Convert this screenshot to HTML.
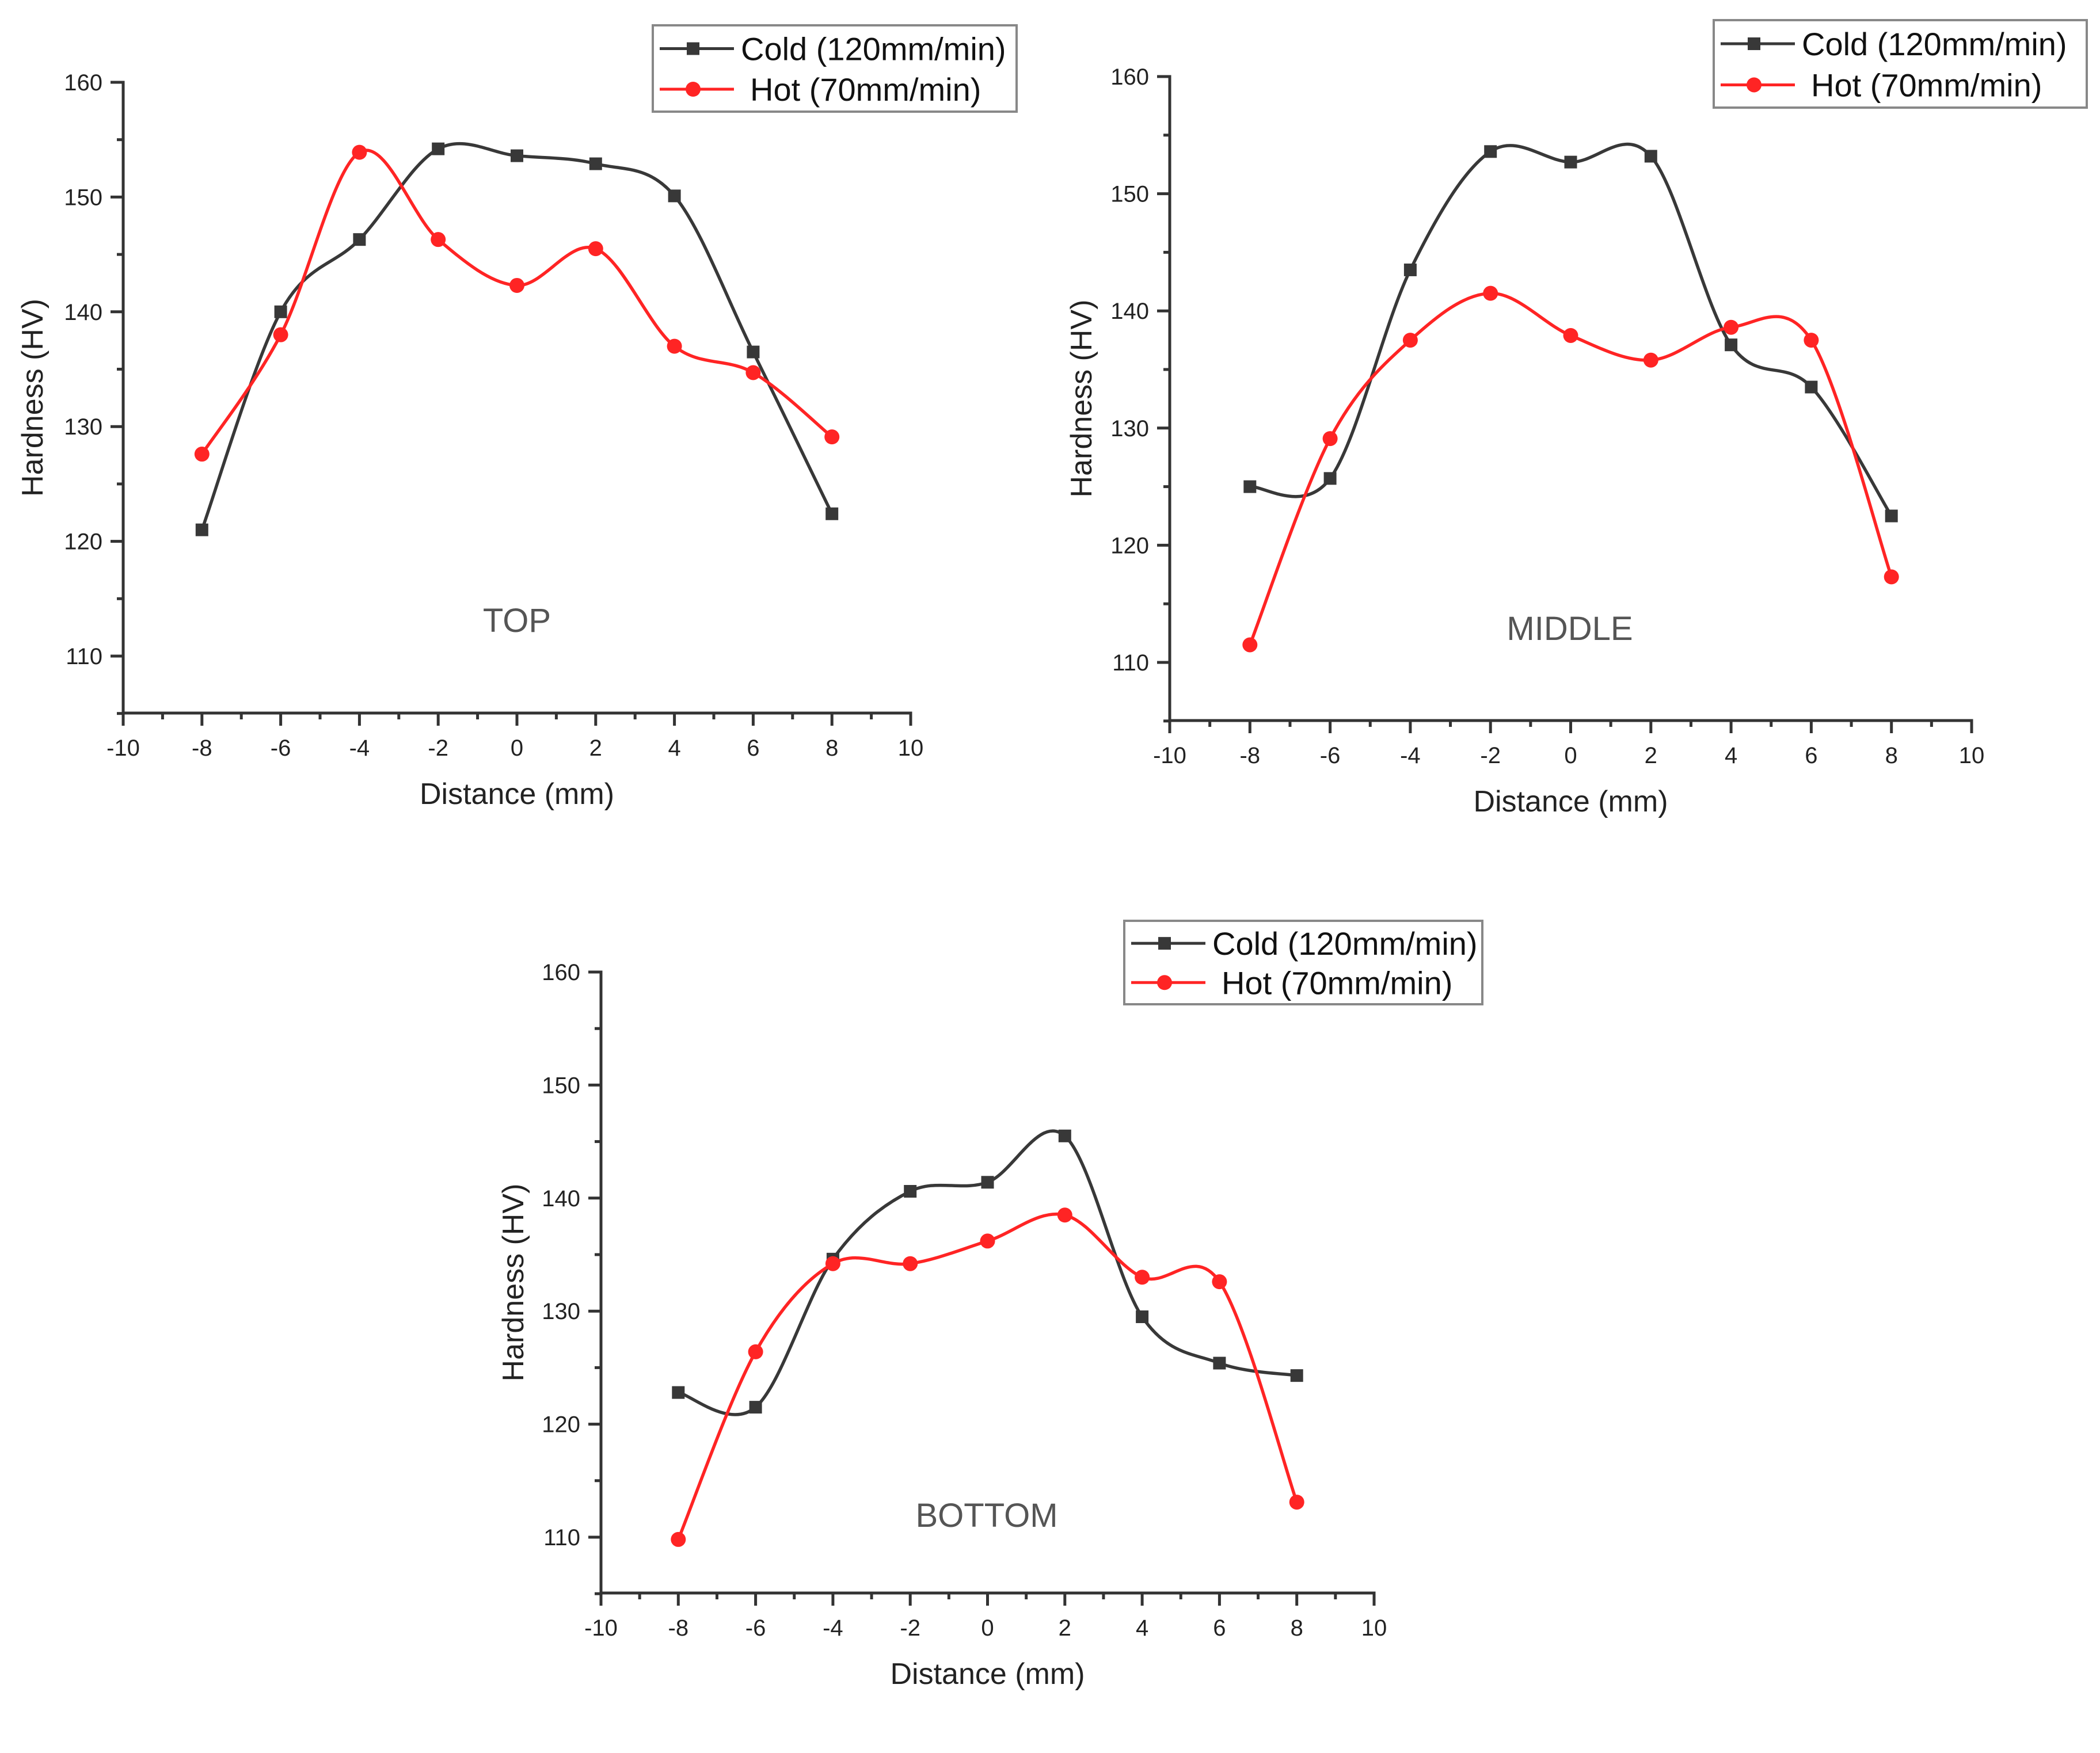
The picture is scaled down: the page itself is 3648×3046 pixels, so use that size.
<!DOCTYPE html>
<html><head><meta charset="utf-8"><style>
html,body{margin:0;padding:0;background:#fff;}
svg{display:block;}
text{font-family:"Liberation Sans",Arial,sans-serif;}
</style></head><body>
<svg id="fig" width="3648" height="3046" viewBox="0 0 3648 3046" xmlns="http://www.w3.org/2000/svg"></svg>
<script>
const distances = [-8,-6,-4,-2,0,2,4,6,8];
const xTicks = [-10,-8,-6,-4,-2,0,2,4,6,8,10];
const yTicks = [110,120,130,140,150,160];
const topCold = [121.0,140.0,146.3,154.2,153.6,152.9,150.1,136.5,122.4];
const topHot = [127.6,138.0,153.9,146.3,142.3,145.5,137.0,134.7,129.1];
const midCold = [125.0,125.7,143.5,153.6,152.7,153.2,137.1,133.5,122.5];
const midHot = [111.5,129.1,137.5,141.5,137.9,135.8,138.6,137.5,117.3];
const botCold = [122.8,121.5,134.6,140.6,141.4,145.5,129.5,125.4,124.3];
const botHot = [109.8,126.4,134.2,134.2,136.2,138.5,133.0,132.6,113.1];
const seriesNames = ["Cold (120mm/min)","Hot (70mm/min)"];

const NS="http://www.w3.org/2000/svg";
const svg=document.getElementById('fig');
function mk(tag,attrs,parent){const e=document.createElementNS(NS,tag);for(const k in attrs)e.setAttribute(k,attrs[k]);(parent||svg).appendChild(e);return e;}
const COLD="#383838", HOT="#ff2424";

function spline(pts){
  let d="M"+pts[0][0]+","+pts[0][1];
  for(let i=0;i<pts.length-1;i++){
    const p0=pts[i-1]||pts[i],p1=pts[i],p2=pts[i+1],p3=pts[i+2]||pts[i+1];
    const c1x=p1[0]+(p2[0]-p0[0])/6,c1y=p1[1]+(p2[1]-p0[1])/6;
    const c2x=p2[0]-(p3[0]-p1[0])/6,c2y=p2[1]-(p3[1]-p1[1])/6;
    d+=" C"+c1x+","+c1y+" "+c2x+","+c2y+" "+p2[0]+","+p2[1];
  }
  return d;
}

function chart(cfg){
  const g=mk('g',{});
  
  
  const X=v=>cfg.x0+(v-(-10))*(cfg.x1-cfg.x0)/20;
  const Y=v=>cfg.y160+(160-v)*(cfg.y110-cfg.y160)/50;
  const yBottom=cfg.yAxis;
  const ax=mk('path',{d:`M${cfg.x0-22},${Y(160)} L${cfg.x0},${Y(160)} L${cfg.x0},${yBottom} L${X(10)},${yBottom} L${X(10)},${yBottom+22}`,fill:'none',stroke:'#333','stroke-width':5},g);
  
  
  for(let v=105;v<=160;v+=5){
    const major=v%10===0;
    mk('line',{x1:cfg.x0-(major?22:11),x2:cfg.x0,y1:Y(v),y2:Y(v),stroke:'#333','stroke-width':5},g);
  }
  yTicks.forEach(v=>{
    const t=mk('text',{x:cfg.x0-36,y:Y(v)+14,'font-size':40,'text-anchor':'end',fill:'#222'},g);
    t.textContent=v;
    
    
  });
  for(let v=-10;v<=10;v++){
    const major=v%2===0;
    mk('line',{x1:X(v),x2:X(v),y1:yBottom,y2:yBottom+(major?22:11),stroke:'#333','stroke-width':5},g);
  }
  xTicks.forEach(v=>{
    const t=mk('text',{x:X(v),y:yBottom+74,'font-size':40,'text-anchor':'middle',fill:'#222'},g);
    t.textContent=v;
    
    
  });
  const xt=mk('text',{x:(X(-10)+X(10))/2,y:yBottom+158,'font-size':52,'text-anchor':'middle',fill:'#222'},g);
  xt.textContent="Distance (mm)";
  
  
  const yt=mk('text',{x:0,y:0,'font-size':52,'text-anchor':'middle',fill:'#222',transform:`translate(${cfg.yTitleX},${(Y(160)+yBottom)/2}) rotate(-90)`},g);
  yt.textContent="Hardness (HV)";
  
  
  const lab=mk('text',{x:cfg.labX,y:cfg.labY,'font-size':58,'text-anchor':'middle',fill:'#555','font-family':'"DejaVu Sans",sans-serif','font-weight':'300'},g);
  lab.textContent=cfg.label;
  
  
  [[cfg.cold,COLD,'cold'],[cfg.hot,HOT,'hot']].forEach(([vals,col,nm])=>{
    const pts=distances.map((d,i)=>[X(d),Y(vals[i])]);
    const p=mk('path',{d:spline(pts),fill:'none',stroke:col,'stroke-width':5.5},g);
    
    
    pts.forEach(pt=>{
      let m;
      if(nm==='cold') m=mk('rect',{x:pt[0]-11,y:pt[1]-11,width:22,height:22,fill:col},g);
      else m=mk('circle',{cx:pt[0],cy:pt[1],r:13,fill:col},g);
      
      
    });
  });
  const L=cfg.legend;
  const lg=mk('g',{},g);
  
  
  mk('rect',{x:L.x,y:L.y,width:L.w,height:L.h,fill:'#fff',stroke:'#888','stroke-width':4},lg);
  [[COLD,'sq',0.27,0],[HOT,'ci',0.74,1]].forEach(([col,sh,fy,i])=>{
    const yy=L.y+L.h*fy;
    mk('line',{x1:L.x+12,x2:L.x+141,y1:yy,y2:yy,stroke:col,'stroke-width':5},lg);
    const mx=L.x+70;
    if(sh==='sq') mk('rect',{x:mx-11,y:yy-11,width:22,height:22,fill:col},lg);
    else mk('circle',{cx:mx,cy:yy,r:13,fill:col},lg);
    const t=mk('text',{x:L.x+(i===0?153:169),y:yy+20,'font-size':56,fill:'#111'},lg);
    t.textContent=seriesNames[i];
    
    
  });
}

chart({name:'top',x0:214,x1:1582,y160:143,y110:1140,yAxis:1239,yTitleX:74,labX:898,labY:1098,label:'TOP',
  cold:topCold,hot:topHot,legend:{x:1134,y:44,w:632,h:150}});
chart({name:'middle',x0:2032,x1:3425,y160:133,y110:1151,yAxis:1252,yTitleX:1896,labX:2727,labY:1112,label:'MIDDLE',
  cold:midCold,hot:midHot,legend:{x:2977,y:35,w:648,h:152}});
chart({name:'bottom',x0:1044,x1:2387,y160:1689,y110:2671,yAxis:2768,yTitleX:909,labX:1714,labY:2653,label:'BOTTOM',
  cold:botCold,hot:botHot,legend:{x:1953,y:1600,w:622,h:145}});
</script>
</body></html>
